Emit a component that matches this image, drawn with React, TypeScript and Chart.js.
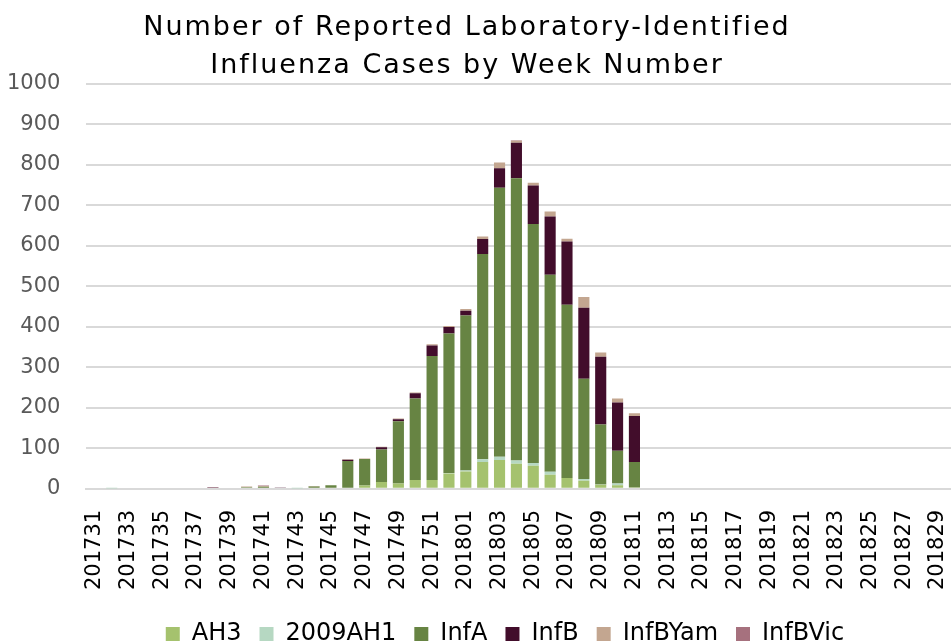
import React, { useEffect, useRef } from "react";
import { Chart, registerables } from "chart.js";

Chart.register(...registerables);

const weeks: string[] = [
  "201731", "201732", "201733", "201734", "201735", "201736", "201737", "201738", "201739", "201740",
  "201741", "201742", "201743", "201744", "201745", "201746", "201747", "201748", "201749", "201750",
  "201751", "201752", "201801", "201802", "201803", "201804", "201805", "201806", "201807", "201808",
  "201809", "201810", "201811", "201812", "201813", "201814", "201815", "201816", "201817", "201818",
  "201819", "201820", "201821", "201822", "201823", "201824", "201825", "201826", "201827", "201828",
  "201829", "201830",
];

const ah3: number[] = [
  0, 0, 0, 0, 0, 0, 0, 0, 0, 0,
  0, 0, 0, 0, 0, 0, 8, 17, 13, 22,
  22, 38, 43, 66, 71, 62, 57, 35, 27, 20,
  10, 9, 3, 0, 0, 0, 0, 0, 0, 0,
  0, 0, 0, 0, 0, 0, 0, 0, 0, 0,
  0, 0,
];

const ah1_2009: number[] = [
  0, 1, 0, 0, 0, 0, 0, 0, 0, 0,
  0, 0, 1, 0, 0, 0, 0, 0, 0, 0,
  0, 1, 2, 7, 8, 8, 7, 7, 0, 4,
  1, 4, 0, 0, 0, 0, 0, 0, 0, 0,
  0, 0, 0, 0, 0, 0, 0, 0, 0, 0,
  0, 0,
];

const infA: number[] = [
  0, 0, 0, 0, 0, 0, 0, 0, 0, 4,
  5, 0, 0, 6, 9, 69, 66, 80, 154, 201,
  306, 345, 383, 507, 665, 697, 590, 487, 428, 248,
  148, 81, 63, 0, 0, 0, 0, 0, 0, 0,
  0, 0, 0, 0, 0, 0, 0, 0, 0, 0,
  0, 0,
];

const infB: number[] = [
  0, 0, 0, 0, 0, 0, 0, 2, 0, 0,
  0, 3, 0, 0, 0, 3, 0, 6, 5, 13,
  26, 16, 12, 37, 48, 88, 95, 144, 156, 175,
  167, 119, 114, 0, 0, 0, 0, 0, 0, 0,
  0, 0, 0, 0, 0, 0, 0, 0, 0, 0,
  0, 0,
];

const infBYam: number[] = [
  0, 0, 0, 0, 0, 0, 0, 0, 0, 2,
  2, 0, 0, 1, 0, 1, 1, 1, 2, 2,
  3, 2, 4, 6, 14, 5, 7, 12, 7, 27,
  11, 10, 7, 0, 0, 0, 0, 0, 0, 0,
  0, 0, 0, 0, 0, 0, 0, 0, 0, 0,
  0, 0,
];

const infBVic: number[] = [
  0, 0, 0, 0, 0, 0, 0, 1, 0, 0,
  1, 0, 0, 0, 0, 0, 0, 0, 0, 0,
  0, 0, 0, 0, 0, 1, 0, 0, 0, 0,
  0, 0, 0, 0, 0, 0, 0, 0, 0, 0,
  0, 0, 0, 0, 0, 0, 0, 0, 0, 0,
  0, 0,
];

const seriesNames: string[] = ["AH3", "2009AH1", "InfA", "InfB", "InfBYam", "InfBVic"];
const seriesColors: string[] = ["#a5c26e", "#b6d8c2", "#678443", "#420d2b", "#c3a690", "#a6717e"];
const titleLines: string[] = ["Number of Reported Laboratory-Identified", "Influenza Cases by Week Number"];

const FONT = "'DejaVu Sans', sans-serif";

const titlePlugin = {
  id: "customTitle",
  afterDraw(chart: any) {
    const ctx = chart.ctx as CanvasRenderingContext2D;
    ctx.save();
    ctx.font = `27px ${FONT}`;
    (ctx as any).letterSpacing = "2px";
    ctx.fillStyle = "#000000";
    ctx.textAlign = "center";
    ctx.textBaseline = "middle";
    ctx.fillText(titleLines[0], 467, 28);
    ctx.fillText(titleLines[1], 467, 66);
    ctx.restore();
  },
};

const legendShiftPlugin = {
  id: "legendShift",
  afterLayout(chart: any) {
    const lg = chart.legend;
    if (lg) {
      lg.top -= 7;
      lg.bottom -= 7;
      lg.left += 14;
      lg.right += 14;
    }
  },
};

export default function App() {
  const ref = useRef<HTMLCanvasElement | null>(null);

  useEffect(() => {
    if (!ref.current) return;
    const values = [ah3, ah1_2009, infA, infB, infBYam, infBVic];
    const chart = new Chart(ref.current, {
      type: "bar",
      data: {
        labels: weeks,
        datasets: seriesNames.map((name, i) => ({
          label: name,
          data: values[i],
          backgroundColor: seriesColors[i],
          borderWidth: 0,
          barPercentage: 0.66,
          categoryPercentage: 1,
        })),
      },
      options: {
        responsive: false,
        maintainAspectRatio: false,
        animation: false,
        devicePixelRatio: 1,
        layout: { padding: { top: 84, left: -19, right: 0, bottom: 0 } },
        plugins: {
          title: { display: false },
          tooltip: { enabled: false },
          legend: {
            position: "bottom",
            labels: {
              font: { family: FONT, size: 24 },
              color: "#000000",
              boxWidth: 14,
              boxHeight: 14,
              padding: 18,
            },
          },
        },
        scales: {
          x: {
            stacked: true,
            grid: { display: false, drawTicks: false },
            border: { display: true, color: "#d9d9d9", width: 2 },
            ticks: {
              autoSkip: false,
              maxRotation: 90,
              minRotation: 90,
              padding: 21,
              color: "#000000",
              font: { family: FONT, size: 21 },
              callback: (_v: any, idx: number) => (idx % 2 === 0 ? weeks[idx] : ""),
            },
          },
          y: {
            stacked: true,
            min: 0,
            max: 1000,
            grid: { color: "#d9d9d9", lineWidth: 2, drawTicks: false },
            border: { display: false },
            ticks: {
              stepSize: 100,
              padding: 26,
              color: "#595959",
              font: { family: FONT, size: 21 },
              callback: (v: any) => String(v),
            },
          },
        },
      },
      plugins: [titlePlugin, legendShiftPlugin],
    });
    return () => chart.destroy();
  }, []);

  return (
    <div
      style={{
        position: "absolute",
        left: 0,
        top: 0,
        width: 951,
        height: 643,
        overflow: "hidden",
        background: "#ffffff",
      }}
    >
      <canvas ref={ref} width={1001} height={663} style={{ display: "block" }} />
    </div>
  );
}
